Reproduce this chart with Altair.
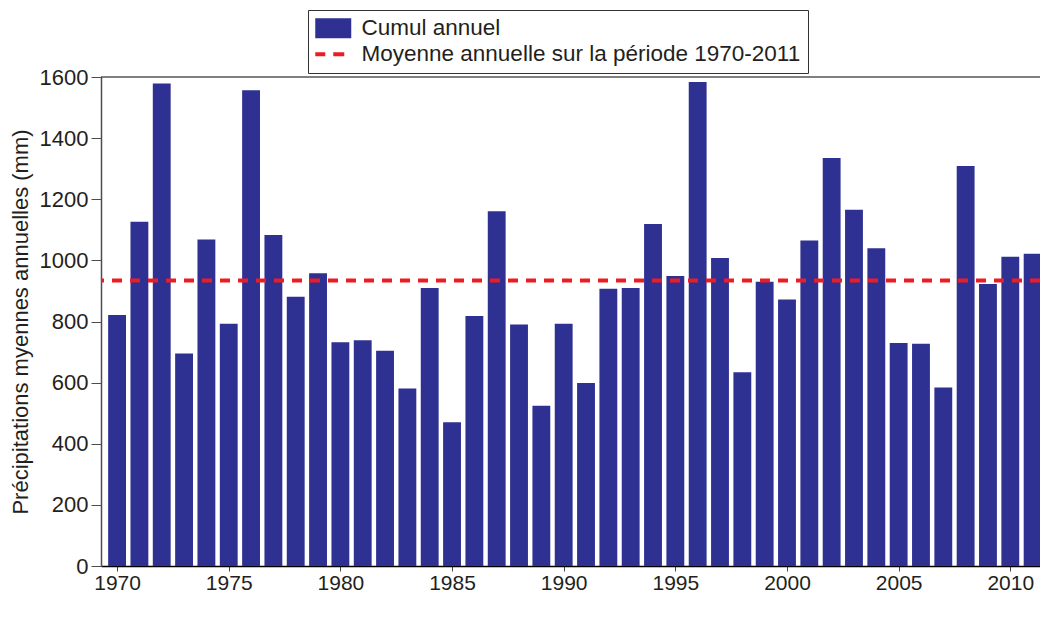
import altair as alt
import pandas as pd

years = list(range(1970, 2012))
values = [821, 1126, 1579, 695, 1068, 793, 1557, 1083, 881, 958,
          732, 739, 704, 581, 910, 470, 818, 1161, 790, 524,
          793, 599, 907, 910, 1119, 949, 1584, 1008, 634, 930,
          872, 1065, 1335, 1166, 1040, 730, 727, 584, 1309, 923,
          1012, 1022]
mean_value = [934]
top_value = [1600]
series_names = ["Cumul annuel", "Moyenne annuelle sur la période 1970-2011"]
x_ticks = [1970, 1975, 1980, 1985, 1990, 1995, 2000, 2005, 2010]
y_ticks = [0, 200, 400, 600, 800, 1000, 1200, 1400, 1600]

BLUE = "#2E3192"
RED = "#ED1C24"
TXT = "#231F20"
FONT = "Liberation Sans"

bars_df = pd.DataFrame({"year": years, "value": values})
mean_df = pd.DataFrame({"mean": mean_value})
top_df = pd.DataFrame({"top": top_value})
leg_df = pd.DataFrame({"serie": series_names})

xscale = alt.Scale(domain=[1969.28, 2011.33], nice=False, zero=False)
yscale = alt.Scale(domain=[0, 1600], nice=False)

bars = alt.Chart(bars_df).transform_calculate(
    x0="datum.year - 0.4", x1="datum.year + 0.4", base="0"
).mark_bar(color=BLUE, clip=True).encode(
    x=alt.X("x0:Q", scale=xscale,
            axis=alt.Axis(values=x_ticks, format="d", title=None, grid=False,
                          tickSize=5, labelPadding=1, domainColor="black",
                          tickColor="#444444", domainWidth=1.5,
                          labelFontSize=21, labelColor=TXT, labelFont=FONT)),
    x2="x1:Q",
    y=alt.Y("value:Q", scale=yscale,
            axis=alt.Axis(values=y_ticks, format="d",
                          title="Précipitations myennes annuelles (mm)",
                          grid=False, tickSize=10, labelPadding=3,
                          domainColor="#4D4D4D", tickColor="#4D4D4D", domainWidth=1.5,
                          labelFontSize=22, labelColor=TXT, labelFont=FONT,
                          titleFontSize=22, titleFont=FONT, titleColor=TXT,
                          titleFontWeight="normal", titlePadding=7)),
    y2="base:Q",
)

top_rule = alt.Chart(top_df).mark_rule(color="black", strokeWidth=1).encode(
    y=alt.Y("top:Q", scale=yscale)
)

mean_rule = alt.Chart(mean_df).mark_rule(color=RED, strokeDash=[10, 8], strokeWidth=4).encode(
    y=alt.Y("mean:Q", scale=yscale)
)

patch_path = "M-1.1,-1H2.5V1H-1.1Z"
dash_path = "M-1.1,-0.2H-0.1V0.2H-1.1Z M0.7,-0.2H1.8V0.2H0.7Z"

legend = alt.Legend(orient="none", legendX=207, legendY=-67, padding=7,
                    strokeColor="#333333", fillColor="white",
                    symbolSize=400, symbolOpacity=1, symbolStrokeWidth=0,
                    labelFontSize=22.5, labelFont=FONT, labelColor=TXT,
                    labelOffset=24, rowPadding=3, labelLimit=600)

leg = alt.Chart(leg_df).mark_point(filled=True, opacity=0, size=400).encode(
    shape=alt.Shape("serie:N", title=None,
                    scale=alt.Scale(domain=series_names, range=[patch_path, dash_path]),
                    legend=legend),
    color=alt.Color("serie:N", title=None,
                    scale=alt.Scale(domain=series_names, range=[BLUE, RED]),
                    legend=legend),
)

chart = alt.layer(bars, top_rule, mean_rule, leg).properties(
    width=939, height=489,
    autosize=alt.AutoSizeParams(type="none"),
    padding={"left": 93, "top": 69, "right": 0, "bottom": 32},
).configure_view(strokeWidth=0)

chart.save("out.html", embed_options={"renderer": "svg", "actions": False})
